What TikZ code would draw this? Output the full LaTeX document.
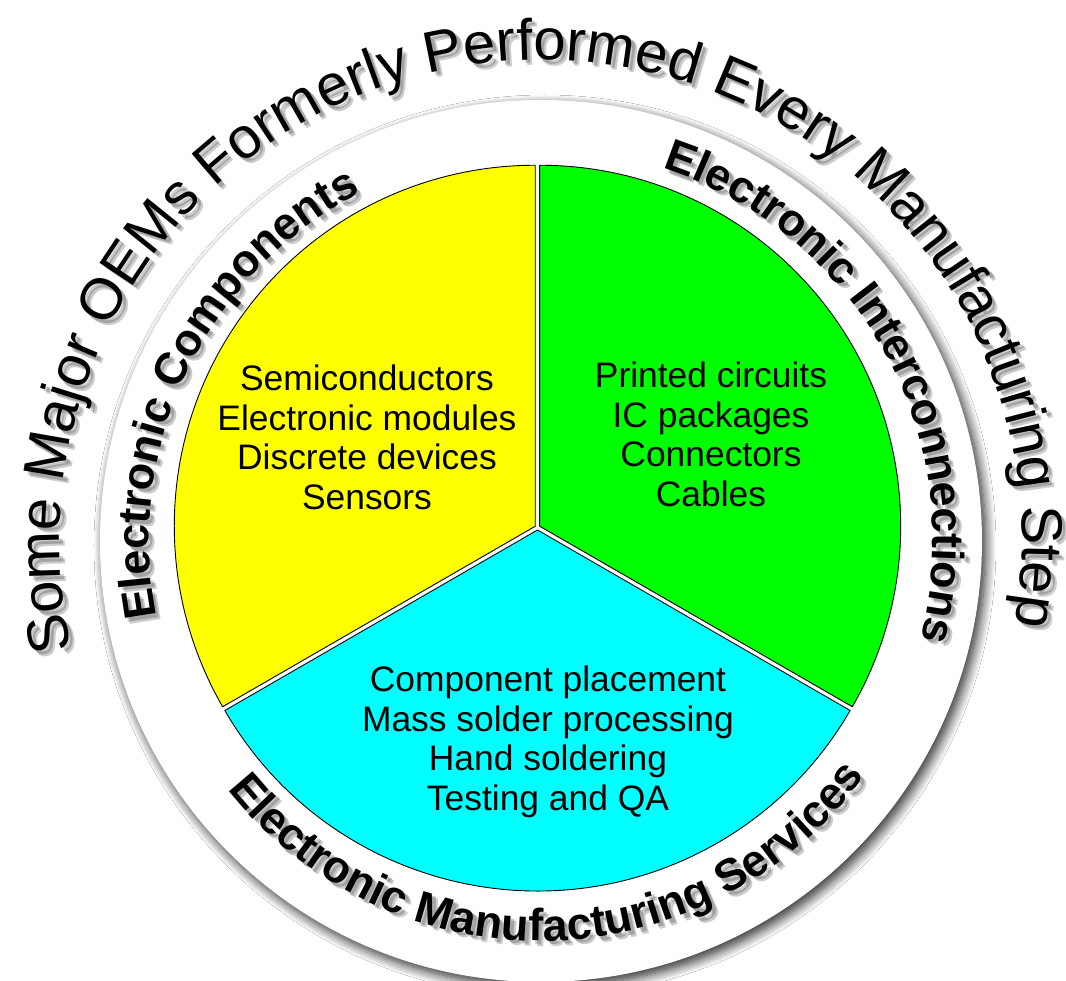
\documentclass[tikz,border=0pt]{standalone}
\usepackage{fontspec}
\setmainfont{Liberation Sans}
\usetikzlibrary{decorations.text,shadows.blur}
\definecolor{segyellow}{RGB}{255,255,0}
\definecolor{seggreen}{RGB}{0,255,0}
\definecolor{segcyan}{RGB}{0,255,255}
\newcommand\outerfont{\fontsize{58}{58}\selectfont}
\newcommand\labfont{\fontsize{45}{45}\selectfont\bfseries}
\newcommand\bodyfont{\fontsize{35.4}{39.5}\selectfont}
\newcommand\shadowlayer[6]{%
  \begin{scope}[shift={(#6)}, opacity=0.2]
    \path[decorate,decoration={text along path,text align=center,text={|#4\color{black}|#5}}]
      (#2:#1) arc[start angle=#2,end angle=#3,radius=#1];
  \end{scope}%
}
\newcommand\arclabel[5]{%
  \shadowlayer{#1}{#2}{#3}{#4}{#5}{5.5,-5.5}
  \shadowlayer{#1}{#2}{#3}{#4}{#5}{3.5,-3.5}
  \path[decorate,decoration={text along path,text align=center,text={|#4|#5}}]
    (#2:#1) arc[start angle=#2,end angle=#3,radius=#1];
}
\begin{document}
\begin{tikzpicture}[x=1pt,y=1pt,
  seg/.style={draw=black, line width=0.9pt, line join=round},
  body/.style={anchor=base, inner sep=0pt, font=\bodyfont},
]
\useasboundingbox (-541,-440) rectangle (525,541);
\fill[white] (-541,-440) rectangle (525,541);
\node[circle, minimum size=882pt, fill=white, inner sep=0pt,
  blur shadow={shadow xshift=4pt, shadow yshift=-5pt, shadow blur radius=10pt, shadow blur steps=12, shadow opacity=85}] (ring) at (0,0) {};

\coordinate (Yc) at (-5.7,14.75);
\coordinate (Gc) at (-1.3,14.75);
\coordinate (Cc) at (-3.5,11);
\filldraw[seg, fill=segyellow] (Yc) -- ++(90:361) arc[start angle=90, end angle=210, radius=361] -- cycle;
\filldraw[seg, fill=seggreen] (Gc) -- ++(90:361) arc[start angle=90, end angle=-30, radius=361] -- cycle;
\filldraw[seg, fill=segcyan] (Cc) -- ++(210:361) arc[start angle=210, end angle=330, radius=361] -- cycle;

\node[body] (y1) at (-174,150) {Semiconductors};
\node[body] (y2) at (-174,110.5) {Electronic modules};
\node[body] (y3) at (-174,71) {Discrete devices};
\node[body] (y4) at (-174,31.5) {Sensors};

\node[body] (g1) at (170,153) {Printed circuits};
\node[body] (g2) at (170,113.5) {IC packages};
\node[body] (g3) at (170,74) {Connectors};
\node[body] (g4) at (170,34.5) {Cables};

\node[body] (c1) at (7,-151) {Component placement};
\node[body] (c2) at (7,-190.5) {Mass solder processing};
\node[body] (c3) at (7,-230) {Hand soldering};
\node[body] (c4) at (7,-269.5) {Testing and QA};

\arclabel{481}{206.5}{-23.5}{\outerfont}{Some Major OEMs Formerly Performed Every Manufacturing Step}
\arclabel{392}{214.25}{94.25}{\labfont}{Electronic Components}
\arclabel{392}{88.7}{-31.3}{\labfont}{Electronic Interconnections}
\arclabel{400}{201.2}{341.2}{\labfont}{Electronic Manufacturing Services}
\end{tikzpicture}
\end{document}
